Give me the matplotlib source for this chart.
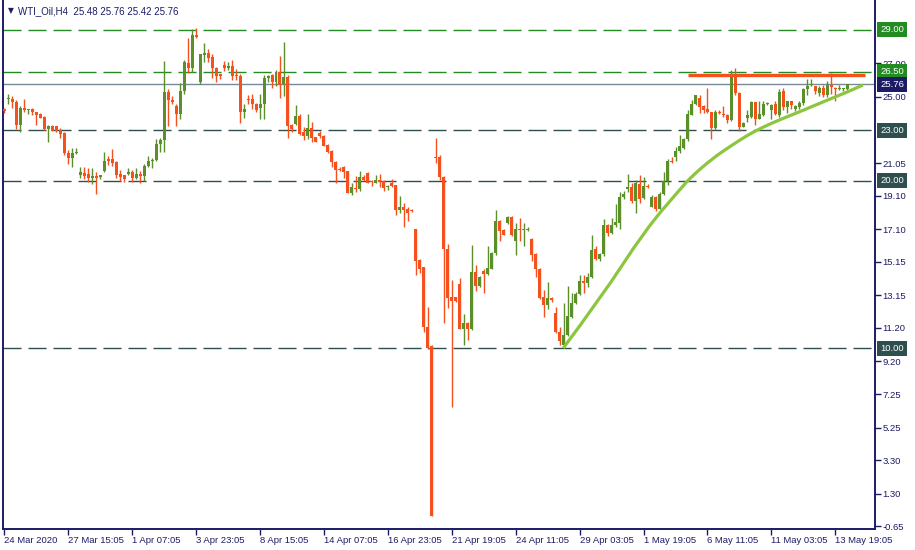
import matplotlib
matplotlib.use("Agg")
import matplotlib.pyplot as plt
from matplotlib.path import Path
from matplotlib.patches import PathPatch
import numpy as np

# H4 candles (open, high, low, close)
opens = [
    24.28, 24.86, 24.90, 24.68, 23.32, 24.32, 24.20, 24.28, 24.08, 23.96,
    23.80, 23.08, 23.28, 23.24, 23.04, 22.84, 21.68, 21.37, 21.65, 20.33,
    20.45, 20.37, 20.18, 20.30, 20.20, 20.57, 21.30, 21.30, 21.09, 20.41,
    20.33, 20.41, 20.50, 20.18, 20.41, 20.30, 20.85, 21.17, 21.21, 22.17,
    22.45, 25.28, 24.84, 24.48, 24.00, 25.36, 27.03, 26.71, 28.70, 25.88,
    27.51, 27.63, 27.39, 26.71, 26.35, 26.91, 26.75, 26.87, 26.27, 26.23,
    24.12, 24.88, 24.88, 24.56, 24.32, 24.56, 26.11, 26.31, 25.87, 26.47,
    25.80, 26.19, 23.33, 23.41, 23.88, 22.89, 22.65, 23.17, 22.61, 22.85,
    22.65, 22.13, 21.75, 21.11, 20.72, 20.80, 20.56, 19.28, 19.56, 19.52,
    20.20, 20.44, 19.96, 19.88, 20.04, 19.96, 19.60, 19.88, 19.72, 18.25,
    18.41, 18.33, 18.24, 17.09, 15.26, 14.82, 11.23, 10.12, 21.43, 21.43,
    20.24, 15.90, 13.03, 13.03, 13.82, 11.15, 11.51, 11.11, 14.54, 13.70,
    14.62, 14.42, 14.74, 15.66, 17.57, 17.05, 17.45, 17.85, 16.41, 17.13,
    17.05, 17.05, 16.53, 15.62, 14.74, 13.07, 12.59, 12.99, 12.11, 10.96,
    10.16, 10.76, 11.83, 12.67, 13.23, 14.02, 13.86, 14.22, 15.90, 15.30,
    15.62, 17.33, 16.90, 17.33, 17.49, 19.00, 19.52, 19.64, 18.80, 19.80,
    18.96, 19.68, 18.44, 19.04, 18.32, 19.20, 19.96, 21.19, 21.43, 21.75,
    21.95, 22.51, 23.95, 24.58, 24.94, 24.46, 24.26, 24.11, 23.15, 24.09,
    23.99, 23.91, 23.63, 26.26, 25.26, 23.23, 23.75, 23.83, 24.70, 23.71,
    23.91, 24.58, 24.22, 24.58, 23.95, 25.34, 24.42, 24.74, 24.26, 24.42,
    24.62, 25.46, 25.70, 25.66, 25.26, 25.54, 25.10, 25.74, 25.54, 25.46,
    25.46, 25.48,
]
highs = [
    24.35, 25.15, 25.05, 24.82, 24.48, 24.88, 24.26, 24.32, 24.12, 24.04,
    23.84, 23.32, 23.30, 23.28, 23.12, 22.88, 21.84, 21.97, 21.97, 20.80,
    20.80, 20.77, 20.74, 20.50, 20.36, 21.73, 21.45, 21.89, 21.17, 20.65,
    20.35, 20.73, 20.61, 20.73, 20.55, 21.00, 21.50, 21.33, 22.49, 22.53,
    27.15, 25.47, 25.03, 24.60, 25.82, 27.19, 28.50, 29.06, 29.14, 27.55,
    28.22, 27.87, 27.59, 26.79, 26.37, 27.15, 27.07, 27.23, 26.67, 26.35,
    24.60, 25.12, 25.20, 24.64, 25.20, 26.31, 26.31, 26.39, 26.63, 27.43,
    28.30, 26.31, 23.41, 24.52, 23.96, 23.21, 24.00, 23.53, 22.63, 22.95,
    22.73, 22.20, 21.80, 21.15, 20.84, 20.88, 20.60, 19.84, 20.28, 20.56,
    20.32, 20.52, 20.04, 20.32, 20.40, 20.04, 19.76, 20.08, 19.76, 19.08,
    18.64, 18.40, 18.28, 17.13, 15.30, 14.86, 12.47, 10.20, 22.54, 21.55,
    20.28, 16.21, 14.06, 13.07, 14.18, 12.03, 11.55, 16.13, 14.94, 14.30,
    14.70, 16.09, 15.74, 18.24, 17.65, 17.09, 17.89, 17.89, 17.45, 17.77,
    17.45, 17.25, 16.57, 15.66, 14.78, 13.46, 13.94, 13.07, 12.47, 11.27,
    12.67, 13.70, 13.26, 13.34, 14.38, 14.38, 14.46, 16.73, 16.09, 15.70,
    17.69, 17.40, 17.77, 18.60, 19.32, 19.36, 20.40, 19.88, 20.04, 20.32,
    20.24, 19.80, 19.16, 19.08, 19.32, 20.51, 21.31, 21.39, 22.03, 22.70,
    22.55, 24.22, 24.82, 25.13, 25.14, 24.50, 25.54, 24.11, 24.23, 24.19,
    24.43, 23.99, 26.62, 26.74, 25.30, 23.51, 24.19, 24.74, 24.70, 24.78,
    24.78, 24.70, 24.58, 24.78, 25.46, 25.54, 24.74, 24.74, 24.50, 24.74,
    25.54, 26.10, 26.10, 25.66, 25.66, 25.74, 25.98, 26.42, 25.62, 25.74,
    25.54, 25.76,
]
lows = [
    24.05, 24.60, 24.36, 23.08, 22.88, 24.12, 24.00, 23.92, 23.32, 23.72,
    23.04, 22.32, 22.94, 22.92, 22.56, 21.53, 21.00, 20.80, 21.60, 20.18,
    20.10, 19.94, 19.82, 19.22, 20.10, 20.50, 20.93, 20.85, 20.18, 19.98,
    19.94, 20.33, 19.94, 20.10, 19.86, 20.00, 20.80, 20.73, 21.17, 21.69,
    21.69, 23.28, 24.60, 23.28, 23.68, 25.16, 26.43, 26.51, 28.54, 25.80,
    27.07, 27.07, 26.15, 25.88, 26.07, 26.55, 26.59, 25.99, 25.99, 23.45,
    23.72, 24.60, 24.28, 24.08, 23.68, 23.68, 25.91, 25.56, 25.64, 24.92,
    25.04, 22.53, 22.93, 23.33, 22.73, 22.45, 22.49, 22.29, 22.31, 22.55,
    22.05, 21.63, 20.79, 19.88, 20.56, 20.16, 19.24, 19.16, 19.32, 19.36,
    19.96, 19.84, 19.68, 19.84, 19.60, 19.40, 19.44, 19.60, 17.97, 18.09,
    17.25, 17.57, 18.10, 14.38, 14.50, 10.96, 9.96, -0.04, 21.03, 20.04,
    11.51, 12.39, 6.46, 12.75, 11.15, 10.20, 10.48, 11.07, 13.42, 13.66,
    13.30, 14.38, 14.70, 15.58, 16.37, 16.73, 17.41, 16.69, 15.58, 16.37,
    16.09, 16.97, 15.18, 14.22, 12.95, 11.87, 12.31, 12.75, 10.88, 10.16,
    10.00, 10.72, 11.79, 12.63, 13.15, 13.26, 13.66, 14.18, 15.26, 15.20,
    15.50, 16.70, 16.80, 17.25, 17.13, 18.92, 19.32, 18.68, 18.04, 18.64,
    18.92, 19.58, 18.40, 18.20, 18.28, 19.12, 19.72, 21.07, 21.15, 21.63,
    21.87, 22.39, 23.90, 24.54, 24.03, 24.03, 24.03, 22.51, 23.03, 23.99,
    23.83, 23.47, 23.59, 25.14, 22.95, 23.23, 23.51, 23.75, 23.31, 23.67,
    23.87, 24.50, 23.71, 23.91, 23.79, 24.22, 24.03, 24.30, 24.18, 24.30,
    24.50, 25.10, 25.66, 25.18, 25.06, 25.02, 25.02, 25.18, 24.78, 25.42,
    25.34, 25.42,
]
closes = [
    24.16, 24.90, 24.68, 23.32, 24.32, 24.20, 24.24, 24.08, 23.92, 23.76,
    23.08, 23.28, 22.96, 22.96, 22.80, 21.64, 21.37, 21.65, 21.73, 20.50,
    20.25, 20.18, 20.30, 20.18, 20.33, 21.20, 21.17, 21.05, 20.33, 20.22,
    20.10, 20.53, 20.18, 20.41, 20.30, 20.85, 21.17, 21.21, 22.17, 22.45,
    25.28, 24.80, 24.72, 24.00, 25.36, 27.11, 26.71, 28.70, 28.58, 27.55,
    27.63, 27.35, 26.71, 26.27, 26.27, 26.75, 26.87, 26.23, 26.23, 24.12,
    24.28, 24.84, 24.56, 24.20, 24.60, 26.11, 26.23, 25.87, 26.47, 25.72,
    26.19, 23.29, 23.09, 23.88, 22.81, 22.69, 23.17, 22.57, 22.33, 22.65,
    22.09, 21.71, 21.11, 20.64, 20.64, 20.52, 19.28, 19.60, 19.52, 20.20,
    20.04, 19.88, 19.92, 20.04, 19.92, 19.56, 19.64, 19.68, 18.25, 18.41,
    18.25, 18.09, 18.20, 15.22, 14.74, 11.23, 10.00, -0.04, 21.35, 20.20,
    15.90, 12.99, 12.83, 12.79, 11.15, 11.47, 11.11, 14.54, 13.70, 14.26,
    14.42, 14.78, 15.66, 17.57, 16.97, 16.77, 17.85, 16.73, 17.13, 17.05,
    17.09, 17.13, 15.54, 14.70, 12.99, 12.59, 12.99, 12.87, 10.96, 10.44,
    10.76, 11.91, 12.71, 13.23, 13.98, 13.90, 14.22, 15.86, 15.30, 15.62,
    17.33, 16.90, 17.33, 17.53, 19.04, 19.20, 19.60, 18.80, 19.88, 18.92,
    19.68, 19.60, 19.04, 18.32, 19.20, 19.96, 21.19, 21.11, 21.79, 22.07,
    22.51, 24.00, 24.58, 25.10, 24.42, 24.22, 24.07, 23.15, 24.11, 24.05,
    23.91, 23.63, 26.30, 25.22, 23.19, 23.47, 23.91, 24.70, 23.71, 23.99,
    24.58, 24.66, 24.54, 23.99, 25.30, 24.42, 24.74, 24.50, 24.46, 24.62,
    25.50, 25.66, 25.74, 25.38, 25.54, 25.10, 25.70, 25.58, 25.46, 25.50,
    25.50, 25.76,
]

x_labels = ["24 Mar 2020", "27 Mar 15:05", "1 Apr 07:05", "3 Apr 23:05",
            "8 Apr 15:05", "14 Apr 07:05", "16 Apr 23:05", "21 Apr 19:05",
            "24 Apr 11:05", "29 Apr 03:05", "1 May 19:05", "6 May 11:05",
            "11 May 03:05", "13 May 19:05"]
y_ticks = [27.00, 25.00, 21.05, 19.10, 17.10, 15.15, 13.15, 11.20,
           9.20, 7.25, 5.25, 3.30, 1.30, -0.65]

# horizontal levels drawn on the chart
green_levels = [29.00, 26.50]
grey_levels = [23.00, 20.00, 10.00]
bid_price = 25.76
resistance_price = 26.29
resistance_from, resistance_to = 171.2, 215.4

# hand drawn support curve (bar index, price)
curve_x = [139.9, 149.2, 160.4, 169.2, 172.0, 177.4, 181.7, 185.9, 189.9,
           194.2, 198.4, 202.4, 206.7, 210.9, 214.9]
curve_y = [10.00, 12.95, 17.05, 19.50, 20.25, 21.35, 22.05, 22.70, 23.20,
           23.65, 24.05, 24.45, 24.88, 25.28, 25.71]

BULL = "#5a8f29"
BEAR = "#f4511e"
NAVY = "#1c1c64"
LEVEL_GREEN = "#228b22"
LEVEL_GREY = "#2f4f4f"
FONT = "Liberation Sans"

fig = plt.figure(figsize=(9.15, 5.5), dpi=100)
ax = fig.add_axes([3 / 915, 21 / 550, 872.5 / 915, 529 / 550])

o = np.array(opens)
h = np.array(highs)
l = np.array(lows)
c = np.array(closes)
idx = np.arange(len(o))
up = c >= o
colors = np.where(up, BULL, BEAR)

ax.vlines(idx, l, h, colors=colors, linewidth=1.0, zorder=3)
body_low = np.minimum(o, c)
body_h = np.maximum(np.abs(c - o), 0.06)
ax.bar(idx, body_h, bottom=body_low, width=0.75, color=colors,
       linewidth=0, zorder=4)

for lvl in green_levels:
    ax.axhline(lvl, color=LEVEL_GREEN, linewidth=1.0, dashes=(13, 5), zorder=2)
for lvl in grey_levels:
    ax.axhline(lvl, color=LEVEL_GREY, linewidth=1.0, dashes=(13, 5), zorder=2)
ax.axhline(bid_price, color="#778899", linewidth=1.0, zorder=2)

ax.plot([resistance_from, resistance_to], [resistance_price] * 2,
        color=BEAR, linewidth=2.4, solid_capstyle="butt", zorder=5)

# smooth the drawn curve: read points act as quadratic control points
pts = list(zip(curve_x, curve_y))
verts = [pts[0]]
codes = [Path.MOVETO]
for i in range(1, len(pts) - 1):
    mid = ((pts[i][0] + pts[i + 1][0]) / 2, (pts[i][1] + pts[i + 1][1]) / 2)
    if i == len(pts) - 2:
        mid = pts[-1]
    verts += [pts[i], mid]
    codes += [Path.CURVE3, Path.CURVE3]
ax.add_patch(PathPatch(Path(verts, codes), fill=False, edgecolor="#8cc63f",
                       linewidth=2.3, zorder=5, capstyle="butt"))

ax.set_xlim(-0.33, 218.05)
ax.set_ylim(-0.81, 30.79)

ax.set_xticks(np.arange(0, 16 * len(x_labels), 16))
ax.set_xticklabels(x_labels, ha="left", fontsize=6.8, color=NAVY,
                   family=FONT)
ax.tick_params(axis="x", direction="out", length=4, width=1, color=NAVY, pad=1)

ax.yaxis.tick_right()
ax.set_yticks(y_ticks)
ax.set_yticklabels([f"{v:.2f}" for v in y_ticks], fontsize=6.8, color=NAVY,
                   family=FONT)
ax.tick_params(axis="y", direction="out", length=4, width=1, color=NAVY, pad=1)

for side in ["left", "right", "bottom"]:
    ax.spines[side].set_color(NAVY)
    ax.spines[side].set_linewidth(1.4)
ax.spines["top"].set_visible(False)

# price labels on the right scale
boxes = [(29.00, LEVEL_GREEN), (26.50, LEVEL_GREEN), (bid_price, NAVY),
         (23.00, LEVEL_GREY), (20.00, LEVEL_GREY), (10.00, LEVEL_GREY)]
for price, fc in boxes:
    ax.annotate(f"{price:.2f}", xy=(1, price), xycoords=("axes fraction", "data"),
                xytext=(3.6, 0), textcoords="offset points", va="center",
                ha="left", fontsize=6.8, color="white", family=FONT,
                annotation_clip=False, zorder=6,
                bbox=dict(boxstyle="square,pad=0.32", fc=fc, ec="none"))

fig.text(8 / 915, 1 - 11 / 550, "\u25bc", fontsize=5.5, color=NAVY,
         va="center", ha="left", family="DejaVu Sans")
fig.text(18 / 915, 1 - 11 / 550,
         f"WTI_Oil,H4  {opens[-1]:.2f} {highs[-1]:.2f} {lows[-1]:.2f} {closes[-1]:.2f}",
         fontsize=7, color=NAVY, va="center", ha="left", family=FONT)

fig.savefig("out.png", dpi=100)
